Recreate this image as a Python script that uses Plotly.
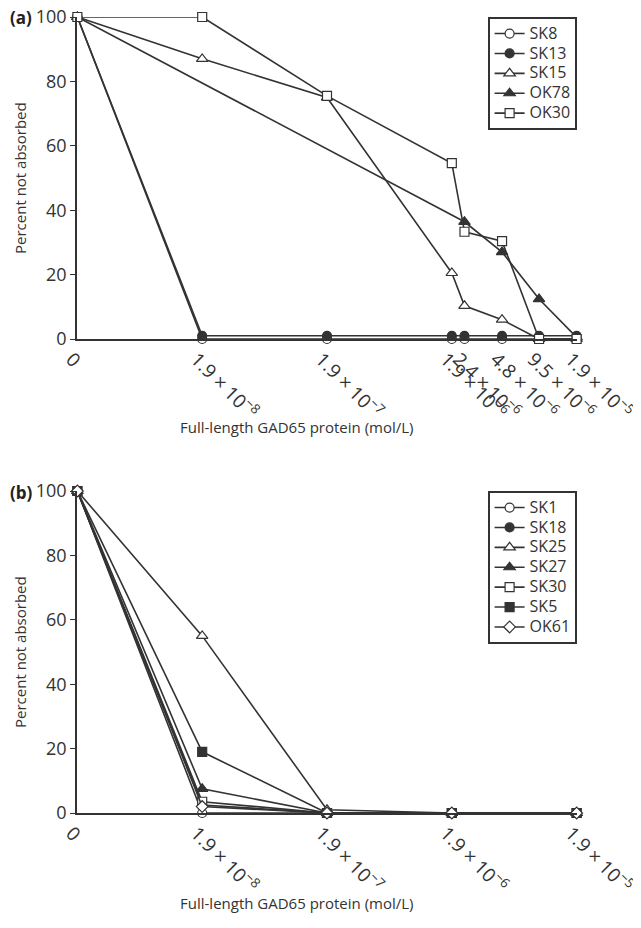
import math
import plotly.graph_objects as go

# ---------------- data ----------------
ZERO_POS = 1.9e-9  # where the "0" concentration is drawn on the log axis

conc_a = [0, 1.9e-8, 1.9e-7, 1.9e-6, 2.4e-6, 4.8e-6, 9.5e-6, 1.9e-5]
tick_a = ["0", "1.9 × 10<sup>−8</sup>", "1.9 × 10<sup>−7</sup>", "1.9 × 10<sup>−6</sup>",
          "2.4 × 10<sup>−6</sup>", "4.8 × 10<sup>−6</sup>", "9.5 × 10<sup>−6</sup>",
          "1.9 × 10<sup>−5</sup>"]
SK8 = [100, 0, 0, 0, 0, 0, 0, 0]
SK13 = [100, 1, 1, 1, 1, 1, 1, 1]
SK15 = [100, 87, 75, 20.5, 10.3, 6, 0, 0]
OK78 = [100, None, None, None, 36.4, 27, 12.4, 0.5]
OK30 = [100, 100, 75.5, 54.6, 33.3, 30.4, 0, 0]

conc_b = [0, 1.9e-8, 1.9e-7, 1.9e-6, 1.9e-5]
tick_b = ["0", "1.9 × 10<sup>−8</sup>", "1.9 × 10<sup>−7</sup>", "1.9 × 10<sup>−6</sup>",
          "1.9 × 10<sup>−5</sup>"]
SK1 = [100, 0, 0, 0, 0]
SK18 = [100, 2.5, 0, 0, 0]
SK25 = [100, 55, 1, 0, 0]
SK27 = [100, 7.5, 0, 0, 0]
SK30 = [100, 3.5, 0, 0, 0]
SK5 = [100, 19, 0, 0, 0]
OK61 = [100, 2, 0, 0, 0]

FONT = "Open Sans"
INK = "#333333"

# figure geometry (pixels, in page coordinates; the page body has an 8px margin)
OFF = 8
W, H = 641 - OFF, 928 - OFF
PLOT_L, PLOT_R = 77, 577
PLOT_T, PLOT_B = 17, 813
ML, MR = PLOT_L - OFF, W - (PLOT_R - OFF)
MT, MB = PLOT_T - OFF, H - (PLOT_B - OFF)
PW, PH = PLOT_R - PLOT_L, PLOT_B - PLOT_T


def py(ypix):
    """paper y fraction for a page pixel row"""
    return (PLOT_B - ypix) / PH


def px(xpix):
    return (xpix - PLOT_L) / PW


def xpos(conc):
    return [c if c > 0 else ZERO_POS for c in conc]


styles = {
    "SK8": ("circle", "white"), "SK13": ("circle", INK), "SK15": ("triangle-up", "white"),
    "OK78": ("triangle-up", INK), "OK30": ("square", "white"),
    "SK1": ("circle", "white"), "SK18": ("circle", INK), "SK25": ("triangle-up", "white"),
    "SK27": ("triangle-up", INK), "SK30": ("square", "white"), "SK5": ("square", INK),
    "OK61": ("diamond", "white"),
}

fig = go.Figure()


def add(name, x, y, xa, ya, legend):
    sym, fill = styles[name]
    fig.add_trace(go.Scatter(
        x=xpos(x), y=y, name='<span style="font-size:16px">' + name + '</span>',
        mode="lines+markers", connectgaps=True,
        xaxis=xa, yaxis=ya, legend=legend, cliponaxis=False,
        line=dict(color=INK, width=1.6),
        marker=dict(symbol=sym, size=9 if "triangle" not in sym else 10,
                    color=fill, line=dict(color=INK, width=1.2)),
    ))


for n, v in [("SK8", SK8), ("SK13", SK13), ("SK15", SK15), ("OK78", OK78), ("OK30", OK30)]:
    add(n, conc_a, v, "x", "y", "legend")
for n, v in [("SK1", SK1), ("SK18", SK18), ("SK25", SK25), ("SK27", SK27),
             ("SK30", SK30), ("SK5", SK5), ("OK61", OK61)]:
    add(n, conc_b, v, "x2", "y2", "legend2")

xr = [math.log10(ZERO_POS) - 0.003, math.log10(1.9e-5) + 0.003]

xcommon = dict(type="log", range=xr, showgrid=False, zeroline=False, showline=True,
               linecolor=INK, linewidth=1.6, automargin=False, ticklabeloverflow="allow",
               ticklabelshift=-6, ticklabelstandoff=0,
               ticks="", tickangle=45, tickfont=dict(family=FONT, size=19, color=INK))
ycommon = dict(range=[0, 100], showgrid=False, zeroline=False, showline=True,
               linecolor=INK, linewidth=1.6, ticks="outside", ticklen=5, tickcolor=INK,
               tickwidth=1.4, tickvals=[0, 20, 40, 60, 80, 100], automargin=False,
               ticklabeloverflow="allow",
               tickfont=dict(family=FONT, size=18, color=INK))

legcommon = dict(x=1, xanchor="right", bordercolor=INK, borderwidth=1.6, bgcolor="white",
                 font=dict(family=FONT, size=13, color=INK), tracegroupgap=0,
                 itemwidth=30)

fig.update_layout(
    width=W, height=H, plot_bgcolor="white", paper_bgcolor="white",
    margin=dict(l=ML, r=MR, t=MT, b=MB, autoexpand=False),
    xaxis=dict(xcommon, domain=[0, 1], anchor="y",
               tickvals=xpos(conc_a), ticktext=tick_a),
    yaxis=dict(ycommon, domain=[py(339), 1.0], anchor="x"),
    xaxis2=dict(xcommon, domain=[0, 1], anchor="y2",
                tickvals=xpos(conc_b), ticktext=tick_b),
    yaxis2=dict(ycommon, domain=[0, py(491)], anchor="x2"),
    legend=dict(legcommon, y=1.0, yanchor="top"),
    legend2=dict(legcommon, y=py(491), yanchor="top"),
    showlegend=True,
)

ann = dict(showarrow=False, font=dict(family=FONT, size=15, color=INK),
           xref="paper", yref="paper")
for ypix in (427, 903):
    fig.add_annotation(ann, text="Full-length GAD65 protein (mol/L)",
                       x=px(297), y=py(ypix), xanchor="center", yanchor="middle")
for ypix in (178, 652):
    fig.add_annotation(ann, text="Percent not absorbed", textangle=-90,
                       x=px(20), y=py(ypix), xanchor="center", yanchor="middle")
for lab, ypix in (("(a)", 18), ("(b)", 492)):
    fig.add_annotation(text="<b>" + lab + "</b>", xref="paper", yref="paper", x=px(8),
                       y=py(ypix), xanchor="left", yanchor="middle", showarrow=False,
                       font=dict(family=FONT, size=17, color="#222222"))

fig.write_html("out.html")
